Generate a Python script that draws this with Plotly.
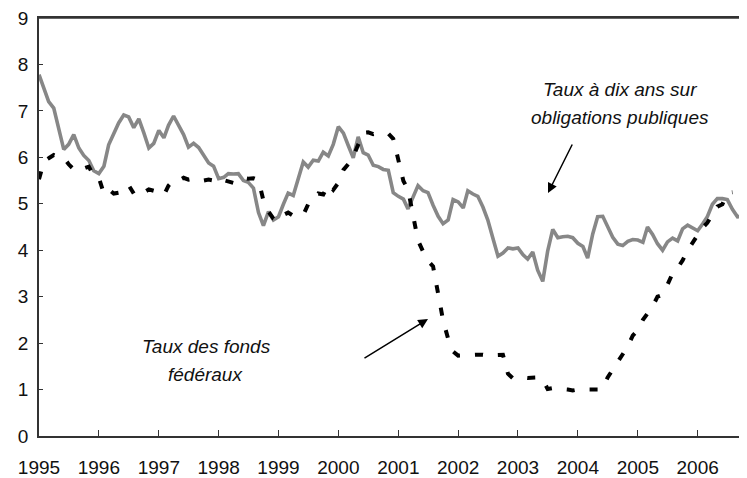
import pandas as pd
import plotly.graph_objects as go

# Monthly averages, Jan 1995 onward (%)
TREASURY_10Y = [
    7.78, 7.47, 7.20, 7.06, 6.63, 6.17, 6.28, 6.49, 6.20, 6.04, 5.93, 5.71,  # 1995
    5.65, 5.81, 6.27, 6.51, 6.74, 6.91, 6.87, 6.64, 6.83, 6.53, 6.20, 6.30,  # 1996
    6.58, 6.42, 6.69, 6.89, 6.71, 6.49, 6.22, 6.30, 6.21, 6.03, 5.88, 5.81,  # 1997
    5.54, 5.57, 5.65, 5.64, 5.65, 5.50, 5.46, 5.34, 4.81, 4.53, 4.83, 4.65,  # 1998
    4.72, 5.00, 5.23, 5.18, 5.54, 5.90, 5.79, 5.94, 5.92, 6.11, 6.03, 6.28,  # 1999
    6.66, 6.52, 6.26, 5.99, 6.44, 6.10, 6.05, 5.83, 5.80, 5.74, 5.72, 5.24,  # 2000
    5.16, 5.10, 4.89, 5.14, 5.39, 5.28, 5.24, 4.97, 4.73, 4.57, 4.65, 5.09,  # 2001
    5.04, 4.91, 5.28, 5.21, 5.16, 4.93, 4.65, 4.26, 3.87, 3.94, 4.05, 4.03,  # 2002
    4.05, 3.90, 3.81, 3.96, 3.57, 3.33, 3.98, 4.45, 4.27, 4.29, 4.30, 4.27,  # 2003
    4.15, 4.08, 3.83, 4.35, 4.72, 4.73, 4.50, 4.28, 4.13, 4.10, 4.19, 4.23,  # 2004
    4.22, 4.17, 4.50, 4.34, 4.14, 4.00, 4.18, 4.26, 4.20, 4.46, 4.54, 4.47,  # 2005
    4.42, 4.57, 4.72, 4.99, 5.11, 5.11, 5.09, 4.88, 4.72, 4.73, 4.60,        # 2006
]

FED_FUNDS = [
    5.53, 5.92, 5.98, 6.05, 6.01, 6.00, 5.85, 5.74, 5.80, 5.76, 5.80, 5.60,  # 1995
    5.56, 5.22, 5.31, 5.22, 5.24, 5.27, 5.40, 5.22, 5.30, 5.24, 5.31, 5.29,  # 1996
    5.25, 5.19, 5.39, 5.51, 5.50, 5.56, 5.52, 5.54, 5.54, 5.50, 5.52, 5.50,  # 1997
    5.56, 5.51, 5.49, 5.45, 5.49, 5.56, 5.54, 5.55, 5.51, 5.07, 4.83, 4.68,  # 1998
    4.63, 4.76, 4.81, 4.74, 4.74, 4.76, 4.99, 5.07, 5.22, 5.20, 5.42, 5.30,  # 1999
    5.45, 5.73, 5.85, 6.02, 6.27, 6.53, 6.54, 6.50, 6.52, 6.51, 6.51, 6.40,  # 2000
    5.98, 5.49, 5.31, 4.80, 4.21, 3.97, 3.77, 3.65, 3.07, 2.49, 2.09, 1.82,  # 2001
    1.73, 1.74, 1.73, 1.75, 1.75, 1.75, 1.73, 1.74, 1.75, 1.75, 1.34, 1.24,  # 2002
    1.24, 1.26, 1.25, 1.26, 1.26, 1.22, 1.01, 1.03, 1.01, 1.01, 1.00, 0.98,  # 2003
    1.00, 1.01, 1.00, 1.00, 1.00, 1.03, 1.26, 1.43, 1.61, 1.76, 1.93, 2.16,  # 2004
    2.28, 2.50, 2.63, 2.79, 3.00, 3.04, 3.26, 3.50, 3.62, 3.78, 4.00, 4.16,  # 2005
    4.29, 4.49, 4.59, 4.79, 4.94, 4.99, 5.24, 5.25,                          # 2006
]

YEAR_TICKS = [str(y) for y in range(1995, 2007)]

FONT = "Liberation Sans, Arial, sans-serif"
AXIS_COLOR = "#333333"

treasury_dates = pd.date_range("1995-01-01", periods=len(TREASURY_10Y), freq="MS")
fed_dates = pd.date_range("1995-01-01", periods=len(FED_FUNDS), freq="MS")

fig = go.Figure()
fig.add_trace(
    go.Scatter(
        x=treasury_dates,
        y=TREASURY_10Y,
        mode="lines",
        line=dict(color="#878787", width=3.6),
        name="Taux à dix ans sur obligations publiques",
    )
)
fig.add_trace(
    go.Scatter(
        x=fed_dates,
        y=FED_FUNDS,
        mode="lines",
        line=dict(color="#000000", width=4, dash="8px,15px"),
        name="Taux des fonds fédéraux",
    )
)

# the page body adds an 8px offset, so the figure is 8px smaller than the window
fig.update_layout(
    width=739,
    height=470,
    margin=dict(l=31, r=0, t=10, b=34),
    paper_bgcolor="white",
    plot_bgcolor="white",
    showlegend=False,
    font=dict(family=FONT, size=19, color="#111111"),
)
fig.update_xaxes(
    type="date",
    range=["1995-01-01", "2006-10-29"],
    tickvals=[f"{y}-01-01" for y in YEAR_TICKS],
    ticktext=YEAR_TICKS,
    ticks="inside",
    ticklen=6,
    tickcolor=AXIS_COLOR,
    showline=True,
    linecolor=AXIS_COLOR,
    linewidth=1.5,
    mirror=True,
    showgrid=False,
    zeroline=False,
    ticklabelstandoff=13,
    ticklabeloverflow="allow",
)
fig.update_yaxes(
    range=[0, 9],
    dtick=1,
    ticks="inside",
    ticklen=4,
    tickcolor=AXIS_COLOR,
    showline=True,
    linecolor=AXIS_COLOR,
    linewidth=1.5,
    showgrid=False,
    zeroline=False,
    ticklabelstandoff=5,
    ticklabeloverflow="allow",
)

# top frame line
fig.add_shape(
    type="line", xref="paper", yref="paper", x0=0, x1=1, y0=1, y1=1,
    line=dict(color=AXIS_COLOR, width=1.5),
)

label_font = dict(family=FONT, size=19, color="#111111")
for text, x, y in [
    ("<i>Taux à dix ans sur</i>", 0.8206, 0.829),
    ("<i>obligations publiques</i>", 0.8206, 0.762),
    ("<i>Taux des fonds</i>", 0.2359, 0.213),
    ("<i>fédéraux</i>", 0.2345, 0.146),
]:
    fig.add_annotation(
        text=text, xref="paper", yref="paper", x=x, y=y,
        showarrow=False, font=label_font, xanchor="center", yanchor="middle",
    )

for x, y, ax, ay in [(0.7189, 0.5813, 25, -50), (0.5494, 0.2799, -65, 40)]:
    fig.add_annotation(
        text="", xref="paper", yref="paper", x=x, y=y, ax=ax, ay=ay,
        showarrow=True, arrowhead=2, arrowsize=1.3, arrowwidth=1.5, arrowcolor="#000000",
    )

fig.write_html("out.html")
